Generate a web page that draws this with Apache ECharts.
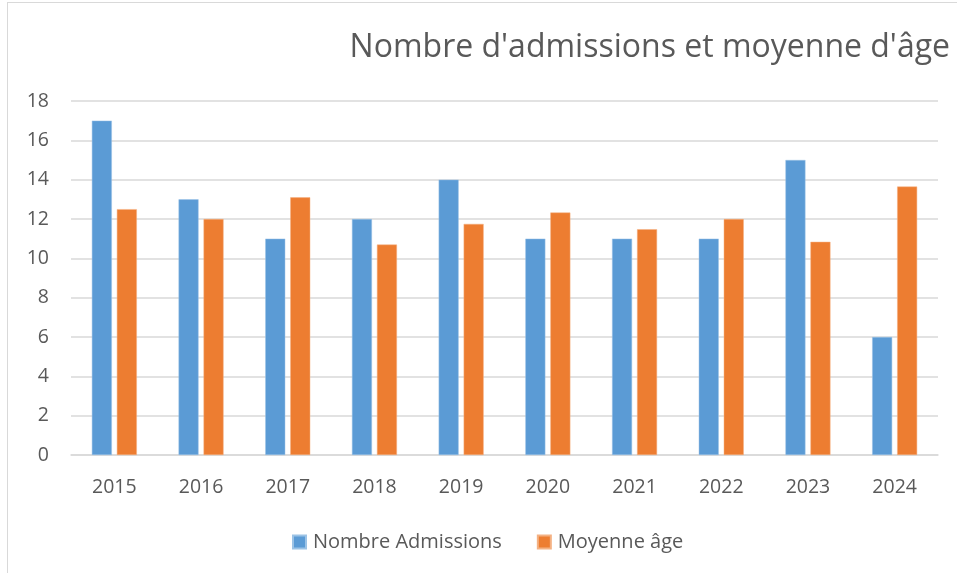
<!DOCTYPE html>
<html>
<head>
<meta charset="utf-8">
<script src="https://cdn.jsdelivr.net/npm/echarts@6/dist/echarts.min.js"></script>
<style>
  html, body { margin: 0; padding: 0; background: #fff; }
  #frame { position: absolute; left: 7px; top: 2px; width: 960px; height: 580px;
    border-left: 1px solid #d9d9d9; border-top: 1px solid #d9d9d9; }
  #chart { position: absolute; left: 0; top: 0; width: 957px; height: 573px; }
</style>
</head>
<body>
<div id="frame"></div>
<div id="chart"></div>
<script>
var years = ['2015', '2016', '2017', '2018', '2019', '2020', '2021', '2022', '2023', '2024'];
var admissions = [17, 13, 11, 12, 14, 11, 11, 11, 15, 6];
var ageMoyen = [12.5, 12.0, 13.1, 10.7, 11.75, 12.33, 11.48, 12.0, 10.84, 13.65];

var blue = '#5b9bd5';
var orange = '#ed7d31';
var textColor = '#595959';
var font = 'Open Sans';

var chart = echarts.init(document.getElementById('chart'));
chart.setOption({
  animation: false,
  title: {
    text: "Nombre d'admissions et moyenne d'âge",
    right: 2,
    top: 27,
    textStyle: { fontFamily: font, fontSize: 32, fontWeight: 'normal', color: textColor }
  },
  legend: {
    top: 527,
    left: 287,
    itemWidth: 13,
    itemHeight: 13,
    itemGap: 35,
    icon: 'rect',
    textStyle: { fontFamily: font, fontSize: 20, color: textColor, padding: [0, 0, 0, 2] }
  },
  grid: { left: 71, right: 19, top: 101, bottom: 118 },
  xAxis: {
    type: 'category',
    data: years,
    axisLine: { lineStyle: { color: '#d9d9d9', width: 1.5 } },
    axisTick: { show: false },
    axisLabel: { fontFamily: font, fontSize: 19.5, color: textColor, margin: 22 }
  },
  yAxis: {
    type: 'value',
    min: 0,
    max: 18,
    interval: 2,
    axisLine: { show: false },
    axisTick: { show: false },
    splitLine: { lineStyle: { color: '#d9d9d9', width: 1.5 } },
    axisLabel: { fontFamily: font, fontSize: 19.5, color: textColor, margin: 22 }
  },
  series: [{
    name: 'Nombre Admissions',
    type: 'bar',
    data: admissions,
    barWidth: 20,
    barGap: '25%',
    itemStyle: { color: blue, borderColor: '#9cc3e6', borderWidth: 0.5 }
  }, {
    name: 'Moyenne âge',
    type: 'bar',
    data: ageMoyen,
    barWidth: 20,
    itemStyle: { color: orange, borderColor: '#f4b183', borderWidth: 0.5 }
  }]
});
</script>
</body>
</html>
